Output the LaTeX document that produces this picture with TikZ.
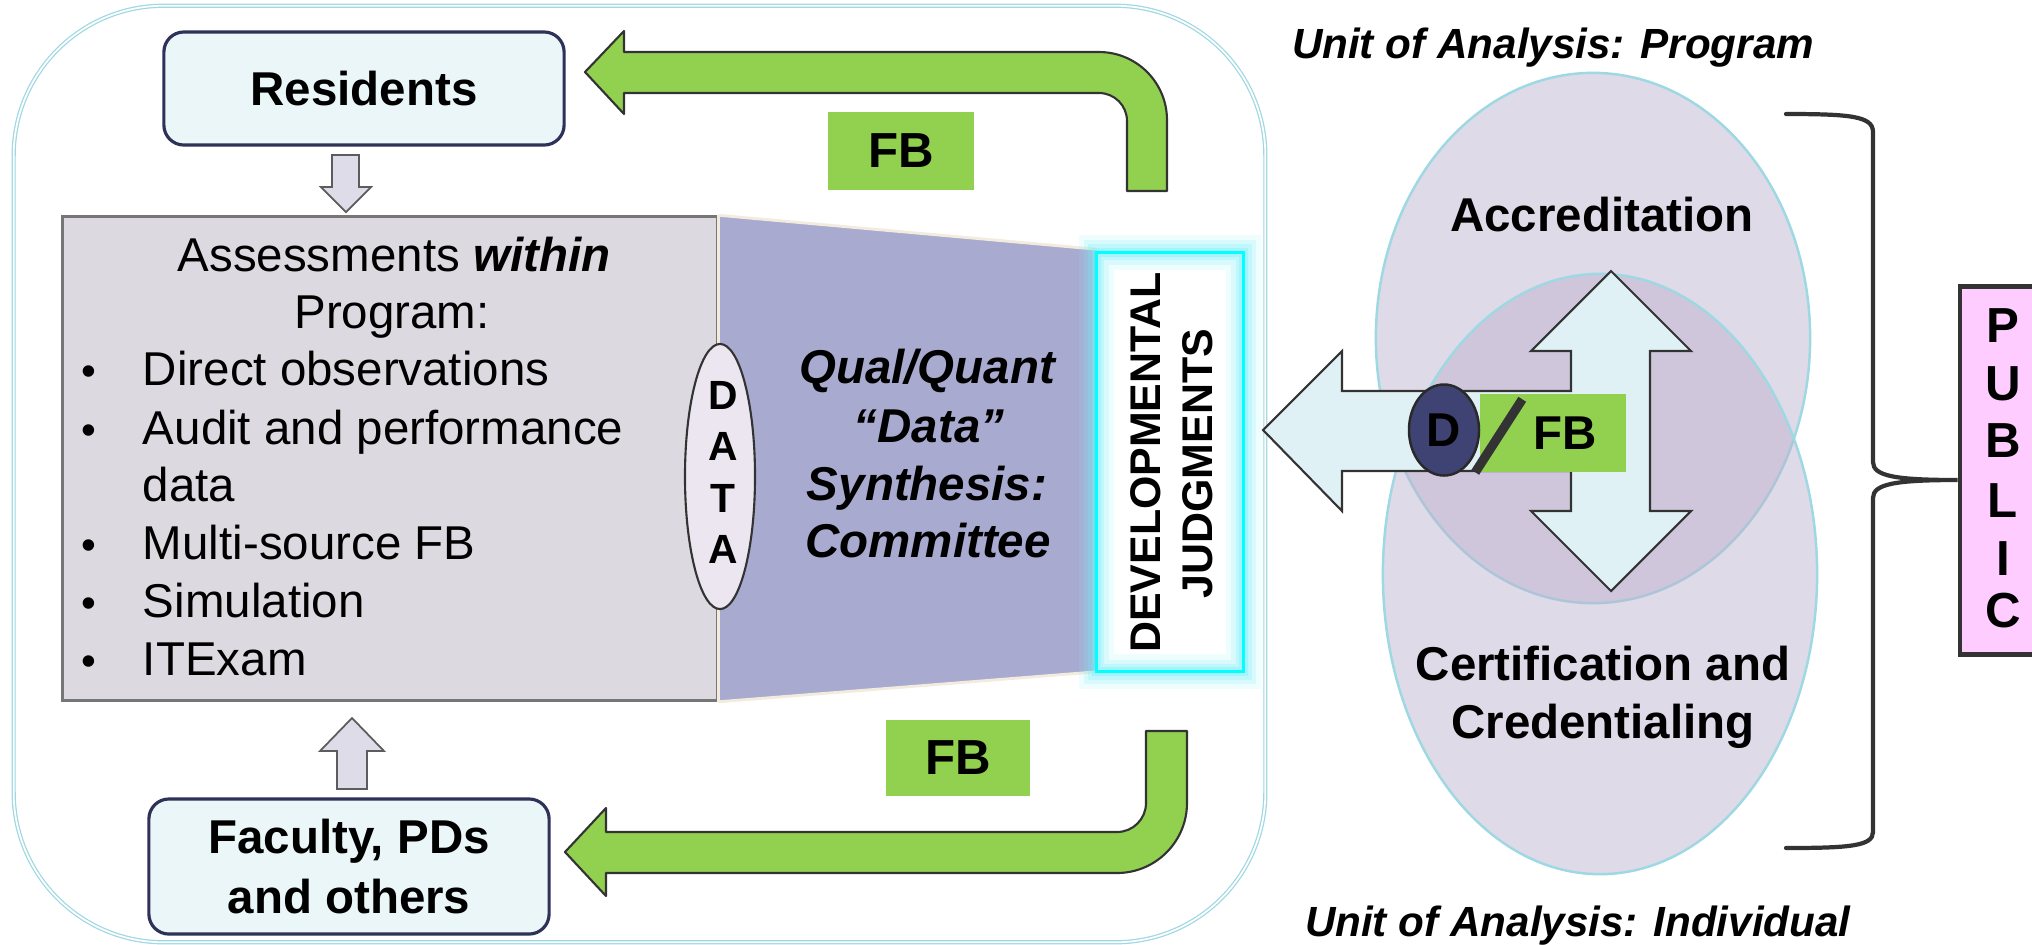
\documentclass[tikz,border=0pt]{standalone}
\usepackage{fontspec}
\setmainfont{Liberation Sans}
\usetikzlibrary{calc,shapes.geometric}
\definecolor{frameC}{HTML}{9ED8E2}
\definecolor{resFill}{HTML}{EAF6F8}
\definecolor{resDraw}{HTML}{2E3158}
\definecolor{assFill}{HTML}{DCDAE0}
\definecolor{assDraw}{HTML}{767676}
\definecolor{trapC}{HTML}{A9AAD0}
\definecolor{gr}{HTML}{92D050}
\definecolor{dk}{HTML}{333333}
\definecolor{lcy}{HTML}{DFF1F5}
\definecolor{navyC}{HTML}{3F4373}
\definecolor{pinkC}{HTML}{FFCCFF}
\definecolor{ellC}{RGB}{190,178,207}
\definecolor{creamC}{HTML}{F3EBDD}
\definecolor{smallarr}{HTML}{DEDCE8}
\definecolor{dataFill}{HTML}{EBE6F0}
\definecolor{cyanC}{RGB}{0,255,255}
\definecolor{glowC}{RGB}{120,240,250}
\begin{document}
\begin{tikzpicture}[x=0.01cm,y=-0.01cm,
  T/.style={inner sep=0pt, outer sep=0pt, anchor=base},
  bf/.style={font=\bfseries\fontsize{13.5}{16}\selectfont},
  rg/.style={font=\fontsize{13.5}{16}\selectfont},
  bi/.style={font=\bfseries\itshape\fontsize{13.5}{16}\selectfont},
  unit/.style={font=\bfseries\itshape\fontsize{12}{14}\selectfont},
  fblabel/.style={fill=gr, inner sep=0pt, font=\bfseries\fontsize{14}{16}\selectfont},
  blockarrow/.style={fill=gr, draw=dk, line width=0.6pt, line join=round},
  smallarrow/.style={fill=smallarr, draw=dk!80, line width=0.5pt},
  pbox/.style={fill=resFill, draw=resDraw, line width=0.9pt, rounded corners=0.2cm, inner sep=0pt},
  bigell/.style={ellipse, fill=ellC, fill opacity=0.48, draw=frameC, line width=0.7pt, inner sep=0pt},
]
\useasboundingbox (0,0) rectangle (2032,944);
\fill[white] (0,0) rectangle (2032,944);

% outer frame
\node[draw=frameC, double=white, double distance=0.5pt, line width=0.35pt, rounded corners=1.5cm,
      minimum width=12.51cm, minimum height=9.36cm, inner sep=0pt] (frame) at (639.5,474) {};

% residents and faculty boxes
\node[pbox, minimum width=4cm, minimum height=1.13cm, bf] (res) at (364,88.5) {Residents};
\node[pbox, minimum width=4cm, minimum height=1.35cm, font=\bfseries\fontsize{13.5}{16.8}\selectfont, align=center] (fac) at (349,866.5) {Faculty, PDs\\and others};

% small arrows
\draw[smallarrow] (332,155) -- (359,155) -- (359,187) -- (371,187) -- (346,212) -- (321,187) -- (332,187) -- cycle;
\draw[smallarrow] (337,789) -- (367,789) -- (367,751) -- (384,751) -- (352,718) -- (320,751) -- (337,751) -- cycle;

% assessments box
\node[fill=assFill, draw=assDraw, line width=0.9pt, minimum width=6.54cm, minimum height=4.83cm, inner sep=0pt] (assess) at (390,458.5) {};

% DJ box (placeholder for anchors)
\node[fill=white, minimum width=1.46cm, minimum height=4.18cm, inner sep=0pt] (dj) at (1170,462) {};

% trapezoid
\fill[trapC] (assess.north east) -- ($(dj.north west)+(0,-3)$) -- (dj.south west) -- (assess.south east) -- cycle;
\draw[creamC, line width=0.8pt] (assess.north east) -- ($(dj.north west)+(0,-3)$);
\draw[creamC, line width=0.8pt] (assess.south east) -- (dj.south west);
\draw[creamC, line width=0.8pt] (assess.north east) -- (assess.south east);

% DJ glow and box
\draw[glowC, opacity=0.12, line width=10pt] (dj.north west) rectangle (dj.south east);
\draw[glowC, opacity=0.18, line width=7pt] (dj.north west) rectangle (dj.south east);
\draw[glowC, opacity=0.25, line width=4.5pt] (dj.north west) rectangle (dj.south east);
\draw[glowC, opacity=0.35, line width=2.5pt] (dj.north west) rectangle (dj.south east);
\draw[cyanC, line width=0.8pt] (dj.north west) rectangle (dj.south east);
\node[T, rotate=90, font=\bfseries\fontsize{12.2}{14}\selectfont] (dj1) at (1160,462.5) {DEVELOPMENTAL};
\node[T, rotate=90, font=\bfseries\fontsize{12.2}{14}\selectfont] (dj2) at (1212,463.5) {JUDGMENTS};

% DATA ellipse
\node[ellipse, fill=dataFill, draw=dk, line width=0.6pt, minimum width=0.70cm, minimum height=2.65cm, inner sep=0pt] (data) at (720,476.5) {};
\node[T, font=\bfseries\fontsize{11.6}{14}\selectfont] (da1) at (723,409) {D};
\node[T, font=\bfseries\fontsize{11.6}{14}\selectfont] (da2) at (723,460) {A};
\node[T, font=\bfseries\fontsize{11.6}{14}\selectfont] (da3) at (723,512) {T};
\node[T, font=\bfseries\fontsize{11.6}{14}\selectfont] (da4) at (723,563) {A};

% assessments text
\node[T, rg] (a0) at (394,271) {Assessments \textbf{\textit{within}}};
\node[T, rg] (a1) at (392,328) {Program:};
\foreach \y/\t [count=\i] in {385/Direct observations, 444/Audit and performance, 501/data, 559/Multi-source FB, 617/Simulation, 675/ITExam}{
  \node[T, rg, anchor=base west] (b\i) at (143,\y) {\t};
}
\foreach \y [count=\i] in {385,444,559,617,675}{
  \node[T, font=\fontsize{12}{14}\selectfont] (bu\i) at (89,\y) {•};
}

% synthesis text
\node[T, bi] (q1) at (927,383.5) {Qual/Quant};
\node[T, bi] (q2) at (929,442.5) {“Data”};
\node[T, bi] (q3) at (927,500) {Synthesis:};
\node[T, bi] (q4) at (928,557) {Committee};

% green feedback arrows
\draw[blockarrow] (585,72) -- (624,31) -- (624,52) -- (1099,52) .. controls (1136.5,52) and (1167,82.5) .. (1167,120) -- (1167,191) -- (1127,191) -- (1127,121) .. controls (1127,105.5) and (1114.5,93) .. (1099,93) -- (624,93) -- (624,114) -- cycle;
\draw[blockarrow] (565,852) -- (606,808) -- (606,832) -- (1117,832) .. controls (1133,832) and (1146,819) .. (1146,803) -- (1146,731) -- (1187,731) -- (1187,803) .. controls (1187,841.6) and (1155.6,873) .. (1117,873) -- (606,873) -- (606,896) -- cycle;
\node[fblabel, minimum width=1.46cm, minimum height=0.78cm] (fbT) at (901,151) {FB};
\node[fblabel, minimum width=1.44cm, minimum height=0.76cm] (fbB) at (958,758) {FB};

% right part: ellipses
\node[bigell, minimum width=4.34cm, minimum height=5.30cm] (acc) at (1593,338) {};
\node[bigell, minimum width=4.34cm, minimum height=6.00cm] (cert) at (1600,574) {};
\node[T, bf] (acct) at (1602,231) {Accreditation};
\node[T, bf] (cert1) at (1603,680) {Certification and};
\node[T, bf] (cert2) at (1603,738) {Credentialing};

% composite arrow
\draw[fill=lcy, draw=dk, line width=0.6pt, line join=miter] (1263,430) -- (1342,351) -- (1342,391) -- (1571,391) -- (1571,351) -- (1531,351) -- (1611,271) -- (1691,351) -- (1650,351) -- (1650,511) -- (1691,511) -- (1611,591) -- (1531,511) -- (1571,511) -- (1571,471) -- (1342,471) -- (1342,511) -- cycle;

% D / FB
\node[fill=gr, minimum width=1.46cm, minimum height=0.78cm, inner sep=0pt, bf] (fbm) at (1553,433) {\hspace*{0.25cm}FB};
\node[ellipse, fill=navyC, draw=dk!80!black, line width=0.7pt, minimum width=0.70cm, minimum height=0.91cm, inner sep=0pt, bf] (dd) at (1444,430) {D};
\draw[dk, line width=2.6pt] ($(fbm.north west)+(43,6)$) -- ($(fbm.north west)+(-4,79)$);

% unit of analysis labels
\node[T, unit, anchor=base west] (u1) at (1292,58) {Unit of Analysis: Program};
\node[T, unit, anchor=base west] (u2) at (1305,936) {Unit of Analysis: Individual};

% PUBLIC box
\node[draw=dk, line width=1.4pt, fill=pinkC, minimum width=0.9cm, minimum height=3.68cm, inner sep=0pt] (pub) at (2005,470.5) {};
\foreach \y/\l [count=\i] in {342/P,400/U,457/B,517/L,575/I,627/C}{
  \node[T, font=\bfseries\fontsize{14}{16}\selectfont] (p\i) at (2003,\y) {\l};
}

% brace
\draw[dk, line width=1.2pt, line cap=round] (1786,114) .. controls (1850,114) and (1873,116) .. (1873,132) -- (1873,462) .. controls (1873,476) and (1895,480) .. ($(pub.west)+(0,9.5)$) .. controls (1895,480) and (1873,484) .. (1873,498) -- (1873,832) .. controls (1873,846) and (1850,848) .. (1786,848);
\end{tikzpicture}
\end{document}
